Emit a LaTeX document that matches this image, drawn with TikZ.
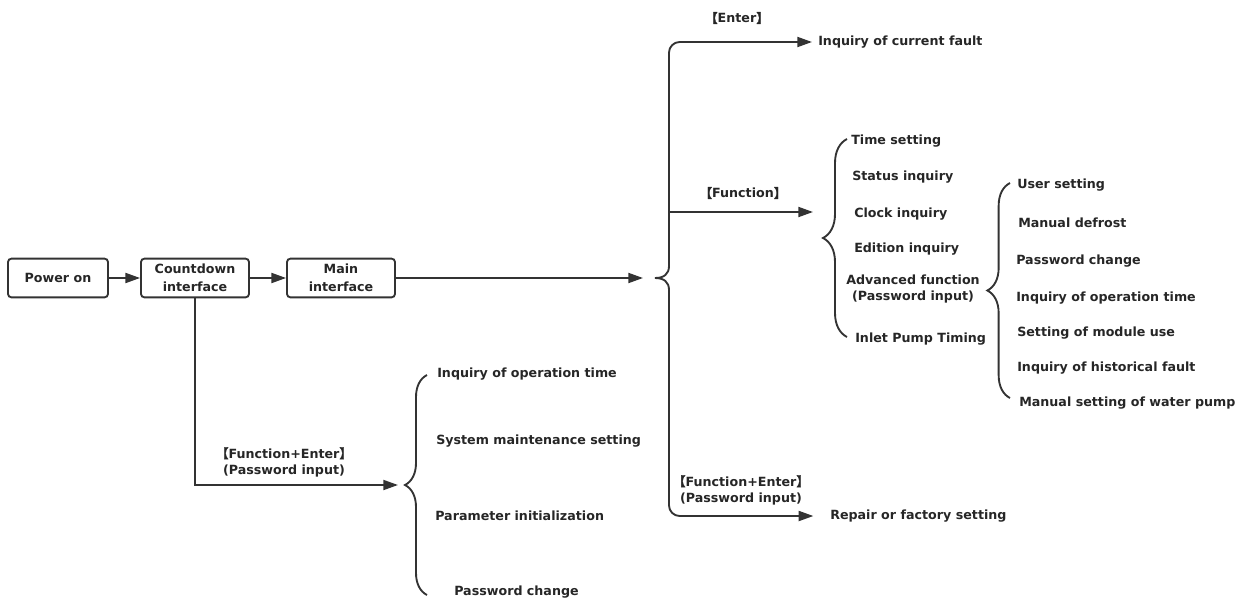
\documentclass[tikz,border=0pt]{standalone}
\usepackage{fontspec}
\setmainfont{DejaVu Sans}
\newfontfamily\cjk[AutoFakeBold=2.5]{Noto Sans CJK SC}
\usetikzlibrary{arrows.meta,decorations.pathreplacing}
\newcommand{\lbk}{{\cjk 【}}
\newcommand{\rbk}{{\cjk 】}}

\begin{document}
\begin{tikzpicture}[x=0.75pt,y=-0.75pt,
        font=\fontsize{9.5}{12}\selectfont\bfseries,
        box/.style={draw=black!80, line width=1.4pt, rounded corners=2.5pt, minimum height=29pt, align=center, text=black!85, font=\fontsize{9.5}{13.5}\selectfont\bfseries},
        item/.style={anchor=west, inner sep=0pt, text=black!85},
        lbl/.style={align=center, inner sep=0pt, text=black!85},
        conn/.style={line width=1.4pt, draw=black!80},
        arr/.style={conn, -{Triangle[length=11pt,width=7.5pt]}},
        brc/.style={conn, decorate, decoration={brace, amplitude=#1}}]
        \useasboundingbox (0,0) rectangle (1254,601);
        % Draw the boxes.
        \node[box, minimum width=75pt] (power) at (58,278) {Power on};
        \node[box, minimum width=81pt] (count) at (195,278) {Countdown\\interface};
        \node[box, minimum width=81pt] (main) at (341,278) {Main\\interface};
        \draw[arr] (power) -- (count);
        \draw[arr] (count) -- (main);
        % Specify the big brace.
        \coordinate (bigin) at (643,278);
        \coordinate (bigtip) at (655,278);
        \coordinate (bigtop) at (669,266);
        \coordinate (bigbot) at (669,290);
        \coordinate (fnin) at (813,212);
        \draw[arr] (main) -- (bigin);
        \node[item] (fault) at (818,42) {Inquiry of current fault};
        \node[item] (repair) at (830,516) {Repair or factory setting};
        \draw[conn] (bigtip) .. controls (664,278) and (669,274) .. (bigtop);
        \draw[conn] (bigtip) .. controls (664,278) and (669,282) .. (bigbot);
        \draw[arr, rounded corners=8pt, shorten >=4.5pt] (bigtop) |- (fault.west);
        \draw[arr, rounded corners=8pt, shorten >=12.5pt] (bigbot) |- (repair.west);
        \draw[arr] (669,212) -- (fnin);
        \node[lbl] (enterlbl) at (737,18) {\lbk Enter\rbk};
        \node[lbl] (funclbl) at (743,193) {\lbk Function\rbk};
        \node[lbl] (repairlbl) at (741,490) {\lbk Function+Enter\rbk\\(Password input)};
        % Specify the function items.
        \draw[brc=18pt] (847,337) -- (847,139);
        \node[item] (time) at (851,141) {Time setting};
        \node[item] (status) at (852,177) {Status inquiry};
        \node[item] (clock) at (854,214) {Clock inquiry};
        \node[item] (edition) at (854,249) {Edition inquiry};
        \node[lbl] (adv) at (913,289) {Advanced function\\(Password input)};
        \node[item] (inlet) at (855,339) {Inlet Pump Timing};
        % Specify the advanced items.
        \draw[brc=17pt] (1010,398) -- (1010,183);
        \node[item] (user) at (1017,185) {User setting};
        \node[item] (defrost) at (1018,223) {Manual defrost};
        \node[item] (pwd) at (1016,261) {Password change};
        \node[item] (optime) at (1016,298) {Inquiry of operation time};
        \node[item] (module) at (1017,333) {Setting of module use};
        \node[item] (hist) at (1017,368) {Inquiry of historical fault};
        \node[item] (pump) at (1019,403) {Manual setting of water pump};
        % Specify the maintenance items.
        \coordinate (lowin) at (398,485);
        \draw[arr] (count) |- (lowin);
        \node[lbl] (lowlbl) at (284,462) {\lbk Function+Enter\rbk\\(Password input)};
        \draw[brc=16.5pt] (427,595) -- (427,375);
        \node[item] (lowtime) at (437,374) {Inquiry of operation time};
        \node[item] (system) at (436,441) {System maintenance setting};
        \node[item] (init) at (435,516) {Parameter initialization};
        \node[item] (lowpwd) at (454,592) {Password change};
\end{tikzpicture}
\end{document}
